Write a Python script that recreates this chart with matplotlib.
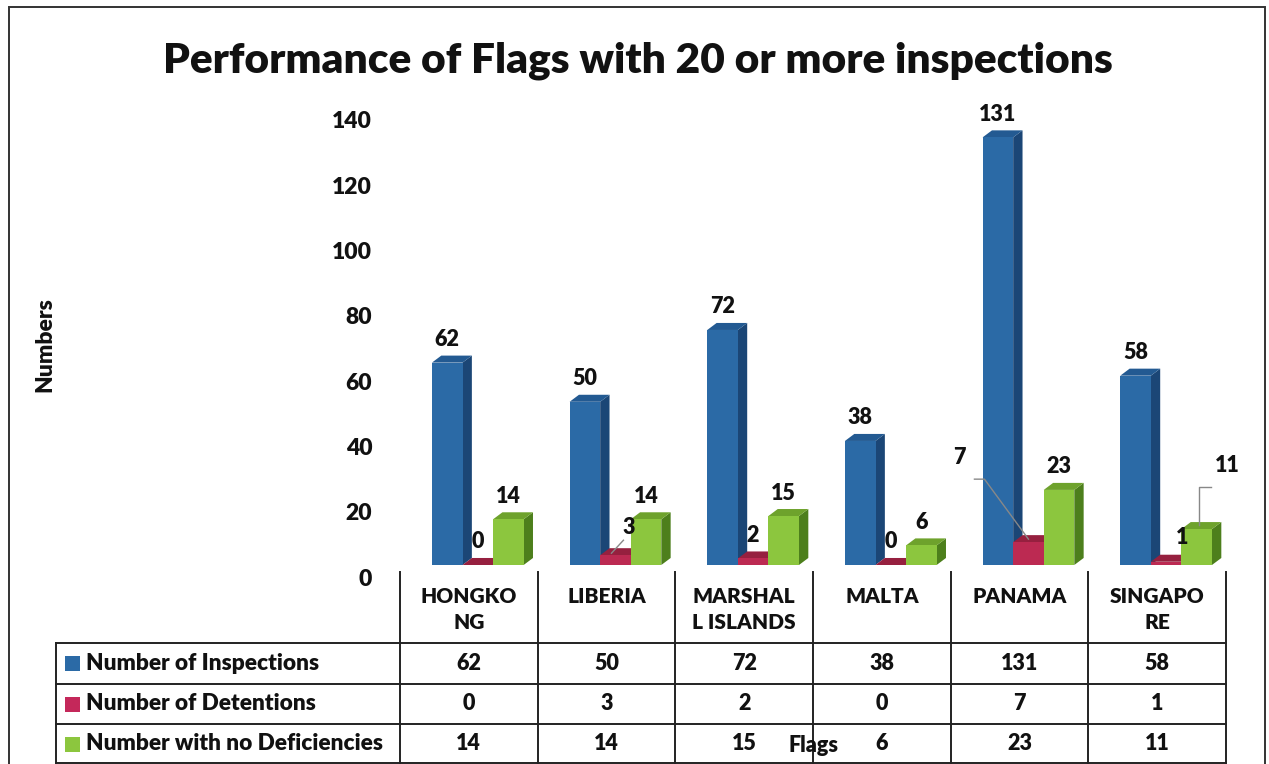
import matplotlib
matplotlib.use("Agg")
import matplotlib.pyplot as plt
from matplotlib.patches import Polygon, Rectangle
from matplotlib.lines import Line2D
from matplotlib.transforms import ScaledTranslation, blended_transform_factory

plt.rcParams['font.family'] = ['Lato', 'DejaVu Sans']
plt.rcParams['font.weight'] = 'bold'
WEIGHT = 'heavy'

flags = ["HONGKONG", "LIBERIA", "MARSHALL ISLANDS", "MALTA", "PANAMA", "SINGAPORE"]
flag_labels = ["HONGKO\nNG", "LIBERIA", "MARSHAL\nL ISLANDS", "MALTA", "PANAMA", "SINGAPO\nRE"]
series_names = ["Number of Inspections", "Number of Detentions", "Number with no Deficiencies"]
inspections = [62, 50, 72, 38, 131, 58]
detentions = [0, 3, 2, 0, 7, 1]
no_deficiencies = [14, 14, 15, 6, 23, 11]
yticks = [0, 20, 40, 60, 80, 100, 120, 140]

series = [inspections, detentions, no_deficiencies]
# front, side, top
colours = [("#2B6AA6", "#1B4676", "#235A92"),
           ("#BC2A52", "#7C1733", "#96203F"),
           ("#8CC63E", "#4D7F1C", "#6EA22C")]
legend_colours = ["#2B6AA6", "#C4285A", "#8CC63E"]

W, H = 1269, 764
fig = plt.figure(figsize=(W / 100, H / 100), dpi=100)
fig.patch.set_facecolor("white")

def fx(x):
    return x / W

def fy(y):
    return 1 - y / H

# outer chart border
fig.add_artist(Rectangle((fx(9), fy(790)), fx(1265) - fx(9), fy(7) - fy(790),
                         transform=fig.transFigure, fill=False, ec="#333333", lw=1.4))

fig.text(fx(638), fy(72), "Performance of Flags with 20 or more inspections",
         ha="center", va="baseline", fontsize=30.5, fontweight=WEIGHT, color="#111111")

ax = fig.add_axes([fx(400), fy(577), fx(1226) - fx(400), fy(120) - fy(577)])
ax.set_xlim(0, len(flags))
ax.set_ylim(0, 140)
ax.set_yticks(yticks)
ax.set_yticklabels([str(t) for t in yticks], fontsize=16.5, fontweight=WEIGHT, color="#111111")
ax.tick_params(axis="y", length=0, pad=20)
ax.set_xticks([])
for s in ax.spines.values():
    s.set_visible(False)
ax.patch.set_alpha(0)

# bars sit slightly above the tick zero, like the Excel 3-D floor
bar_trans = ax.transData + ScaledTranslation(0, 0.12, fig.dpi_scale_trans)
start, bw = 0.232, 0.222
dx, dy = 0.068, 2.15

label_offsets = {(1, 1): (13, 5), (4, 1): (-69, 62), (5, 1): (16, 1), (5, 2): (31, 41)}

for i in range(len(flags)):
    for k, vals in enumerate(series):
        v = vals[i]
        x0 = i + start + k * bw
        front, side, top = colours[k]
        z = 2 + k
        ax.add_patch(Polygon([(x0 + bw, 0), (x0 + bw + dx, dy), (x0 + bw + dx, v + dy), (x0 + bw, v)],
                             closed=True, fc=side, ec="none", transform=bar_trans, clip_on=False, zorder=z))
        ax.add_patch(Polygon([(x0, v), (x0 + dx, v + dy), (x0 + bw + dx, v + dy), (x0 + bw, v)],
                             closed=True, fc=top, ec="none", transform=bar_trans, clip_on=False, zorder=z))
        ax.add_patch(Rectangle((x0, 0), bw, v, fc=front, ec="none", transform=bar_trans,
                               clip_on=False, zorder=z))

        ox, oy = label_offsets.get((i, k), (0, 0))
        xc = x0 + bw / 2
        ax.annotate(str(v), xy=(xc, v), xycoords=bar_trans,
                    xytext=(ox * 0.72, (23 + oy) * 0.72), textcoords="offset points",
                    ha="center", va="center", fontsize=15.5, fontweight=WEIGHT,
                    color="#111111", zorder=10, annotation_clip=False)

# leader lines for moved labels (in pixels relative to the bar top)
def leader(i, k, pts):
    v = series[k][i]
    xc = i + start + k * bw + bw / 2
    base = bar_trans.transform((xc, v))
    xs = [base[0] + p[0] for p in pts]
    ys = [base[1] + p[1] for p in pts]
    fig.add_artist(Line2D(xs, ys, transform=None, color="#888888", lw=1.0, zorder=9))

leader(1, 1, [(8, 15), (-4, 2)])
leader(4, 1, [(-54, 63), (-44, 63), (0, 3)])
leader(5, 2, [(14, 42), (2, 42), (2, 4)])

# data table
tx = blended_transform_factory(ax.transData, fig.transFigure)
row_lines = [643, 684, 724, 763]
row_centers = [663, 704, 744]
for j in range(len(flags) + 1):
    fig.add_artist(Line2D([j, j], [fy(572), fy(770)], transform=tx, color="#222222", lw=1.4))
for y in row_lines:
    fig.add_artist(Line2D([fx(56), fx(1226)], [fy(y), fy(y)], transform=fig.transFigure,
                          color="#222222", lw=1.4))
fig.add_artist(Line2D([fx(56), fx(56)], [fy(643), fy(770)], transform=fig.transFigure,
                      color="#222222", lw=1.4))

for j, name in enumerate(flag_labels):
    fig.text(j + 0.5, fy(587), name, transform=tx, ha="center", va="top", fontsize=15,
             fontweight=WEIGHT, color="#111111", linespacing=1.45)

for r, (name, vals) in enumerate(zip(series_names, series)):
    yc = fy(row_centers[r])
    fig.add_artist(Rectangle((fx(65), yc - 7.5 / H), 15 / W, 15 / H, transform=fig.transFigure,
                             fc=legend_colours[r], ec="none"))
    fig.text(fx(86), yc, name, ha="left", va="center", fontsize=16.3, fontweight=WEIGHT, color="#111111")
    for j, v in enumerate(vals):
        fig.text(j + 0.5, yc, str(v), transform=tx, ha="center", va="center", fontsize=15.5,
                 fontweight=WEIGHT, color="#111111")

fig.text(fx(814), fy(745), "Flags", ha="center", va="center", fontsize=15.5, fontweight=WEIGHT,
         color="#111111")
fig.text(fx(45), fy(345), "Numbers", ha="center", va="center", rotation=90, fontsize=16.5,
         fontweight=WEIGHT, color="#111111")

fig.savefig("out.png", dpi=100, facecolor="white")
